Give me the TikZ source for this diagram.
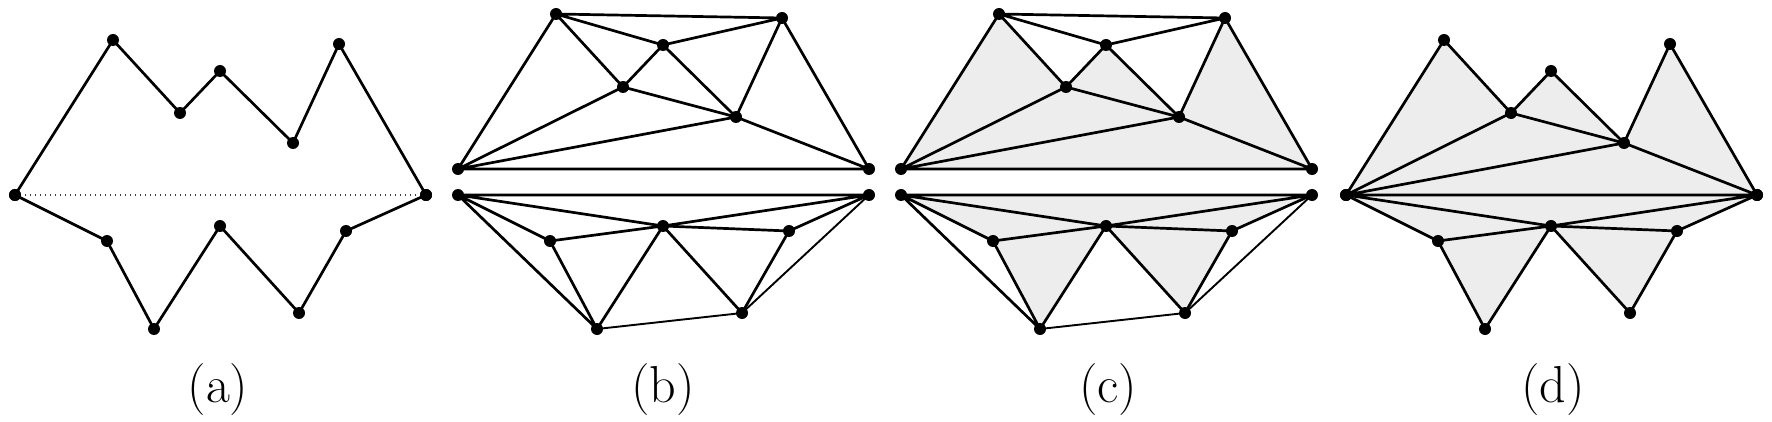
\documentclass[tikz,border=0pt]{standalone}
\usepackage{fontspec}
\definecolor{shadegray}{HTML}{EDEDED}
\tikzset{
  edge/.style={line width=2.7pt, line cap=round, line join=round},
  thinedge/.style={line width=1.9pt, line cap=round},
  shadefill/.style={fill=shadegray},
  vtx/.style={circle, fill=black, inner sep=0pt, minimum size=12pt},
  lab/.style={anchor=base, inner sep=0pt, font=\fontsize{52}{60}\selectfont},
  dotline/.style={line width=1.4pt, black!75, dash pattern=on 1.4pt off 3.6pt},
}
% top chain: L A1 A2 A3 A4 A5 R
\newcommand\mktop[3]{%
  \coordinate (#1L)  at (#2+15,195-#3);
  \coordinate (#1A1) at (#2+113,40-#3);
  \coordinate (#1A2) at (#2+180,113-#3);
  \coordinate (#1A3) at (#2+220,71-#3);
  \coordinate (#1A4) at (#2+293,143-#3);
  \coordinate (#1A5) at (#2+339,44-#3);
  \coordinate (#1R)  at (#2+426,195-#3);
}
% bottom chain: L B1 B2 B3 B4 B5 R
\newcommand\mkbot[2]{%
  \coordinate (#1L)  at (#2+15,195);
  \coordinate (#1B1) at (#2+107,241);
  \coordinate (#1B2) at (#2+154,329);
  \coordinate (#1B3) at (#2+220,226);
  \coordinate (#1B4) at (#2+299,313);
  \coordinate (#1B5) at (#2+346,231);
  \coordinate (#1R)  at (#2+426,195);
}
\newcommand\topdots[1]{%
  \foreach \v in {L,A1,A2,A3,A4,A5,R} {\node[vtx] (#1\v n) at (#1\v) {};}
}
\newcommand\botdots[1]{%
  \foreach \v in {L,B1,B2,B3,B4,B5,R} {\node[vtx] (#1\v n) at (#1\v) {};}
}
\newcommand\topedges[1]{%
  \draw[edge] (#1L) -- (#1A1) (#1A1) -- (#1A5) (#1A1) -- (#1A3) (#1A1) -- (#1A2)
    (#1A3) -- (#1A5) (#1A3) -- (#1A2) (#1A3) -- (#1A4) (#1A2) -- (#1L)
    (#1A2) -- (#1A4) (#1A4) -- (#1L) (#1A4) -- (#1A5) (#1A5) -- (#1R)
    (#1A4) -- (#1R) (#1L) -- (#1R);
}
\newcommand\botedges[1]{%
  \draw[edge] (#1L) -- (#1R) (#1L) -- (#1B3) (#1L) -- (#1B1) (#1L) -- (#1B2)
    (#1B1) -- (#1B3) (#1B1) -- (#1B2) (#1B2) -- (#1B3) (#1B3) -- (#1R)
    (#1B3) -- (#1B5) (#1B3) -- (#1B4) (#1B5) -- (#1R) (#1B4) -- (#1B5);
  \draw[thinedge] (#1B4) -- (#1R) (#1B2) -- (#1B4);
}
\begin{document}
\begin{tikzpicture}[x=1pt,y=-1pt]
\useasboundingbox (0,0) rectangle (1772,422);
% ---------------- (a)
\mktop{a}{0}{0}
\mkbot{a}{0}
\draw[dotline] (aL) -- (aR);
\draw[edge] (aL) -- (aA1) -- (aA2) -- (aA3) -- (aA4) -- (aA5) -- (aR)
  -- (aB5) -- (aB4) -- (aB3) -- (aB2) -- (aB1) -- (aL);
\topdots{a}
\botdots{a}
\node[lab] (labA) at (218,402) {(a)};
% ---------------- (b)
\mktop{bt}{443}{26}
\mkbot{bb}{443}
\topedges{bt}
\botedges{bb}
\topdots{bt}
\botdots{bb}
\node[lab] (labB) at (663,402) {(b)};
% ---------------- (c)
\mktop{ct}{886}{26}
\mkbot{cb}{886}
\fill[shadefill] (ctL) -- (ctA1) -- (ctA2) -- cycle;
\fill[shadefill] (ctA2) -- (ctA3) -- (ctA4) -- cycle;
\fill[shadefill] (ctL) -- (ctA2) -- (ctA4) -- (ctA5) -- (ctR) -- cycle;
\fill[shadefill] (cbL) -- (cbR) -- (cbB5) -- (cbB3) -- (cbB1) -- cycle;
\fill[shadefill] (cbB1) -- (cbB2) -- (cbB3) -- cycle;
\fill[shadefill] (cbB3) -- (cbB4) -- (cbB5) -- cycle;
\topedges{ct}
\botedges{cb}
\topdots{ct}
\botdots{cb}
\node[lab] (labC) at (1108,402) {(c)};
% ---------------- (d)
\mktop{d}{1331}{0}
\mkbot{d}{1331}
\fill[shadefill] (dL) -- (dA1) -- (dA2) -- (dA3) -- (dA4) -- (dA5) -- (dR)
  -- (dB5) -- (dB4) -- (dB3) -- (dB2) -- (dB1) -- cycle;
\draw[edge] (dL) -- (dA1) -- (dA2) -- (dA3) -- (dA4) -- (dA5) -- (dR)
  -- (dB5) -- (dB4) -- (dB3) -- (dB2) -- (dB1) -- (dL);
\draw[edge] (dL) -- (dA2) (dA2) -- (dA4) (dL) -- (dA4) (dA4) -- (dR) (dL) -- (dR)
  (dL) -- (dB3) (dB1) -- (dB3) (dB3) -- (dR) (dB3) -- (dB5);
\topdots{d}
\botdots{d}
\node[lab] (labD) at (1553,402) {(d)};
\end{tikzpicture}
\end{document}
